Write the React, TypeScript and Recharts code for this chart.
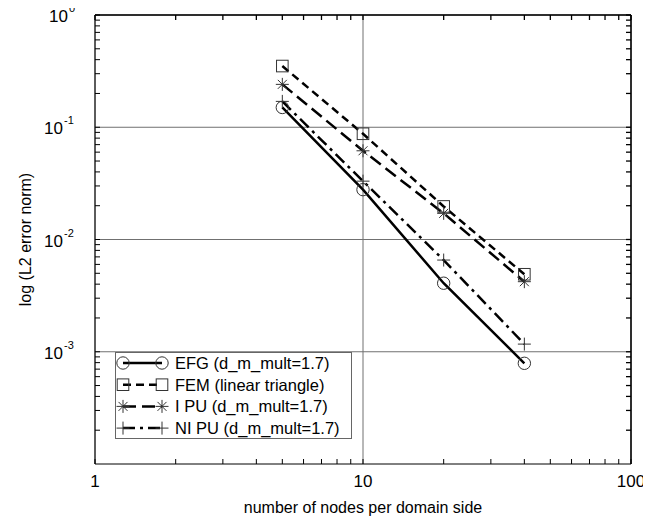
import { LineChart, Line, XAxis, YAxis, CartesianGrid, Label } from 'recharts';

const nodes = [5, 10, 20, 40];
const efgErr = [0.15, 0.0278, 0.00408, 0.000789];
const femErr = [0.351, 0.0875, 0.0197, 0.0049];
const ipuErr = [0.241, 0.0617, 0.0171, 0.00421];
const nipuErr = [0.17, 0.0331, 0.00656, 0.00117];

const xTicks = [1, 10, 100];
const yTicks = [0.001, 0.01, 0.1, 1];
const xMinor = [2, 3, 4, 5, 6, 7, 8, 9, 20, 30, 40, 50, 60, 70, 80, 90];
const yMinor = [
  0.0002, 0.0003, 0.0004, 0.0005, 0.0006, 0.0007, 0.0008, 0.0009,
  0.002, 0.003, 0.004, 0.005, 0.006, 0.007, 0.008, 0.009,
  0.02, 0.03, 0.04, 0.05, 0.06, 0.07, 0.08, 0.09,
  0.2, 0.3, 0.4, 0.5, 0.6, 0.7, 0.8, 0.9,
];

const series = [
  { key: 'efg', name: 'EFG (d_m_mult=1.7)', marker: 'circle', dash: undefined },
  { key: 'fem', name: 'FEM (linear triangle)', marker: 'square', dash: '8 5' },
  { key: 'ipu', name: 'I PU (d_m_mult=1.7)', marker: 'star', dash: '13 6' },
  { key: 'nipu', name: 'NI PU (d_m_mult=1.7)', marker: 'plus', dash: '12 5 3 5' },
];

const data = nodes.map((n, i) => ({
  n,
  efg: efgErr[i],
  fem: femErr[i],
  ipu: ipuErr[i],
  nipu: nipuErr[i],
}));

const FONT = '"Liberation Sans", Arial, sans-serif';
const W = 651, H = 527;
const M = { top: 15, right: 20, bottom: 13, left: 35 };
const X_AXIS_H = 50, Y_AXIS_W = 60;
const PLOT_W = W - M.left - M.right - Y_AXIS_W;
const PLOT_H = H - M.top - M.bottom - X_AXIS_H;
const TL = 5; // inward tick length

const allX = [...xTicks, ...xMinor].sort((a, b) => a - b);
const allY = [...yTicks, ...yMinor].sort((a, b) => a - b);

function Marker({ cx, cy, shape }: { cx: number; cy: number; shape: string }) {
  const st = { stroke: '#333', strokeWidth: 1, fill: 'none' };
  if (shape === 'circle') return <circle cx={cx} cy={cy} r={6.2} {...st} />;
  if (shape === 'square') return <rect x={cx - 5.8} y={cy - 5.8} width={11.6} height={11.6} {...st} />;
  if (shape === 'star') {
    const d = 4.5;
    return (
      <g {...st}>
        <line x1={cx - 6.5} y1={cy} x2={cx + 6.5} y2={cy} />
        <line x1={cx} y1={cy - 6.5} x2={cx} y2={cy + 6.5} />
        <line x1={cx - d} y1={cy - d} x2={cx + d} y2={cy + d} />
        <line x1={cx - d} y1={cy + d} x2={cx + d} y2={cy - d} />
      </g>
    );
  }
  return (
    <g {...st}>
      <line x1={cx - 6.5} y1={cy} x2={cx + 6.5} y2={cy} />
      <line x1={cx} y1={cy - 6.5} x2={cx} y2={cy + 6.5} />
    </g>
  );
}

// left axis: inward ticks on both sides, top border, labels on majors
const YTick = (props: any) => {
  const { x, y, payload } = props;
  const v = payload.value;
  const major = yTicks.includes(v);
  const exp = Math.round(Math.log10(v));
  const right = exp === 0 ? x - 27 : x - 32;
  return (
    <g>
      <line x1={x} y1={y} x2={x + TL} y2={y} stroke="#000" />
      <line x1={x + PLOT_W} y1={y} x2={x + PLOT_W - TL} y2={y} stroke="#000" strokeWidth={1.3} />
      {v === 1 && <line x1={x} y1={y} x2={x + PLOT_W} y2={y} stroke="#000" strokeWidth={1.5} />}
      {major && (
        <g fontFamily={FONT} fill="#000">
          <text x={right} y={y + 7} textAnchor="end" fontSize={17}>10</text>
          <text x={right + 1} y={y - 3} textAnchor="start" fontSize={11}>{exp}</text>
        </g>
      )}
    </g>
  );
};

// bottom axis: inward ticks at bottom and top, right border, labels on majors
const XTick = (props: any) => {
  const { x, y, payload } = props;
  const v = payload.value;
  const major = xTicks.includes(v);
  return (
    <g>
      <line x1={x} y1={y} x2={x} y2={y - TL} stroke="#000" />
      <line x1={x} y1={y - PLOT_H} x2={x} y2={y - PLOT_H + TL} stroke="#000" strokeWidth={1.3} />
      {v === 100 && <line x1={x} y1={y} x2={x} y2={y - PLOT_H} stroke="#000" strokeWidth={1.5} />}
      {major && (
        <text x={x} y={y + 23} textAnchor="middle" fontSize={17} fontFamily={FONT} fill="#000">
          {v}
        </text>
      )}
    </g>
  );
};

function LegendBox() {
  return (
    <svg width={237} height={87} style={{ position: 'absolute', left: 115, top: 352 }}>
      <rect x={0.5} y={0.5} width={236} height={86} fill="#fff" stroke="#666" />
      {series.map((s, i) => {
        const y = 11 + i * 21.7;
        return (
          <g key={s.key}>
            <line x1={8} y1={y} x2={47} y2={y} stroke="#000" strokeWidth={2.5} strokeDasharray={s.dash} />
            <Marker cx={8} cy={y} shape={s.marker} />
            <Marker cx={47} cy={y} shape={s.marker} />
            <text x={60} y={y + 6} fontSize={16.5} fontFamily={FONT} fill="#000">
              {s.name}
            </text>
          </g>
        );
      })}
    </svg>
  );
}

export default function App() {
  return (
    <div style={{ position: 'relative', width: W, height: H, margin: '-8px 0 0 -8px' }}>
      <LineChart width={W} height={H} data={data} margin={M}>
        <CartesianGrid stroke="#707070" strokeWidth={1} verticalValues={xTicks} horizontalValues={yTicks} />
        <XAxis
          dataKey="n"
          type="number"
          scale="log"
          domain={[1, 100]}
          ticks={allX}
          height={X_AXIS_H}
          tickSize={0}
          tickMargin={0}
          tickLine={false}
          axisLine={{ stroke: '#000' }}
          tick={<XTick />}
          interval={0}
        >
          <Label
            content={({ viewBox }: any) => (
              <text
                x={viewBox.x + viewBox.width / 2}
                y={viewBox.y + 49}
                textAnchor="middle"
                fontSize={16}
                fontFamily={FONT}
                fill="#000"
              >
                number of nodes per domain side
              </text>
            )}
          />
        </XAxis>
        <YAxis
          type="number"
          scale="log"
          domain={[0.0001, 1]}
          ticks={allY}
          width={Y_AXIS_W}
          tickSize={0}
          tickMargin={0}
          tickLine={false}
          axisLine={{ stroke: '#000' }}
          tick={<YTick />}
          interval={0}
          allowDataOverflow
        >
          <Label
            content={({ viewBox }: any) => {
              const cx = viewBox.x - 4;
              const cy = viewBox.y + viewBox.height / 2;
              return (
                <text
                  x={cx}
                  y={cy}
                  transform={`rotate(-90 ${cx} ${cy})`}
                  textAnchor="middle"
                  fontSize={16}
                  fontFamily={FONT}
                  fill="#000"
                >
                  log (L2 error norm)
                </text>
              );
            }}
          />
        </YAxis>
        {series.map((s) => (
          <Line
            key={s.key}
            dataKey={s.key}
            name={s.name}
            type="linear"
            stroke="#000"
            strokeWidth={2.5}
            strokeDasharray={s.dash}
            isAnimationActive={false}
            dot={(p: any) => <Marker key={`${s.key}-${p.index}`} cx={p.cx} cy={p.cy} shape={s.marker} />}
            activeDot={false}
          />
        ))}
      </LineChart>
      <LegendBox />
    </div>
  );
}
